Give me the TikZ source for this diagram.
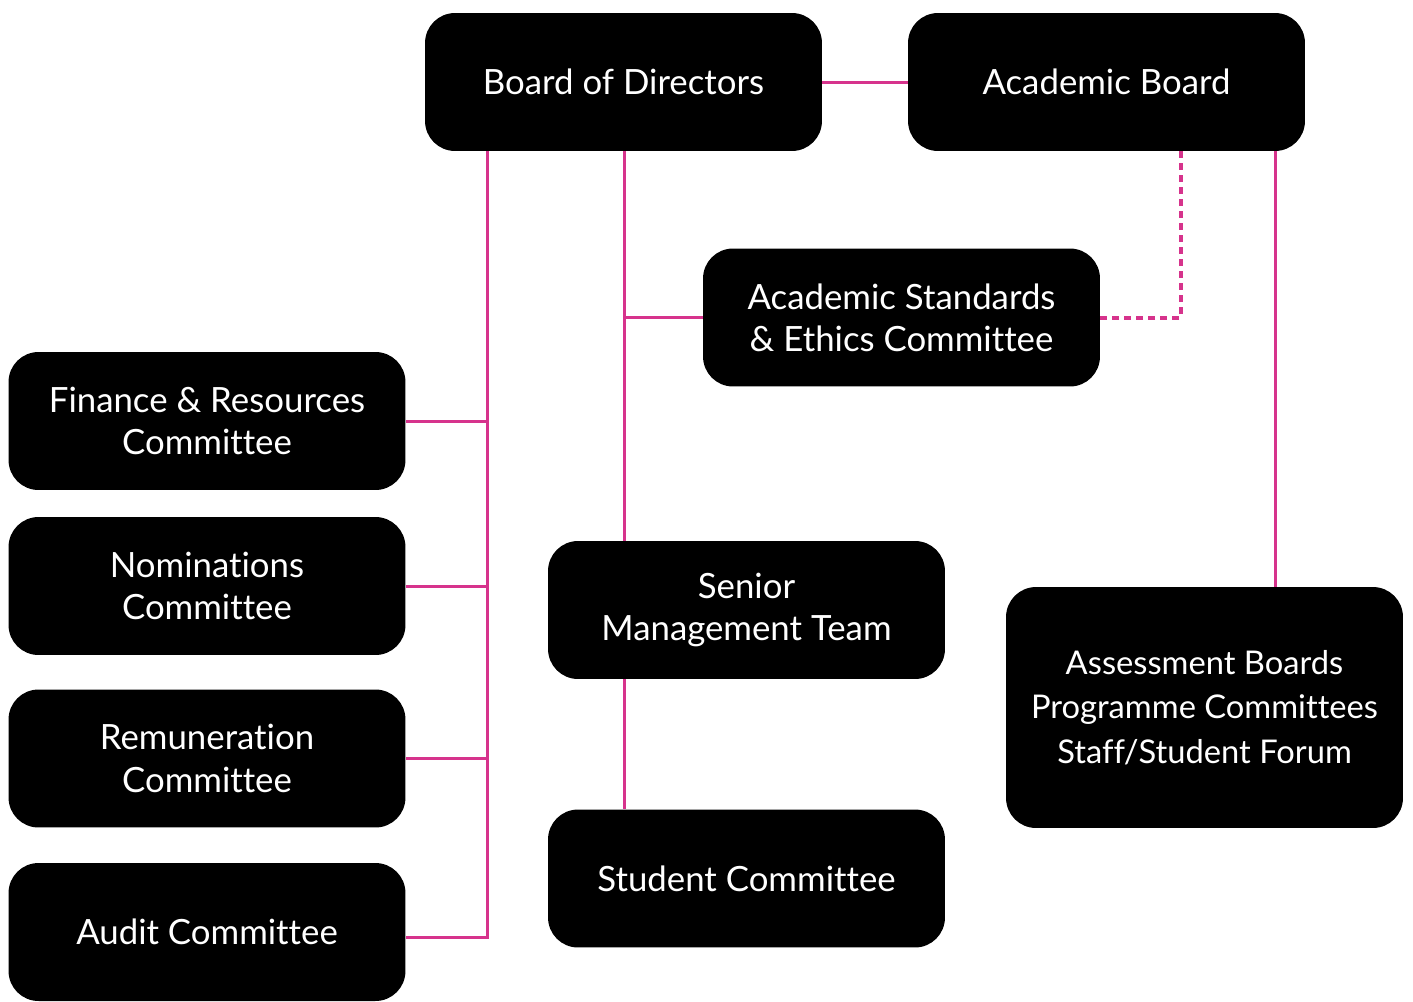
\documentclass[tikz,border=0pt]{standalone}
\usepackage{fontspec}
\setmainfont{Lato}[Ligatures=NoCommon]
\usetikzlibrary{positioning}
\definecolor{orgpink}{RGB}{214,51,140}
\tikzset{
    mynode/.style = {rectangle, rounded corners=0.6cm, fill=black, text=white, align=center,
        minimum width=7.94cm, minimum height=2.76cm, inner sep=0pt, font=\fontsize{19.8}{24}\selectfont},
    mynodet/.style = {mynode, minimum height=4.82cm, font=\fontsize{18.6}{25.5}\selectfont},
    edgep/.style = {draw=orgpink, line width=0.06cm},
    edgepd/.style = {draw=orgpink, line width=0.08cm, dash pattern=on 0.14cm off 0.1cm}, % dotted link
}

\begin{document}
\begin{tikzpicture}[x=0.02cm, y=-0.02cm]
  \useasboundingbox (0,0) rectangle (1413,1001);

  % top row
  \node[mynode] (bod) at (623.5,82) {Board of Directors};
  \node[mynode] (ab) at (1106.5,82) {Academic Board};
  \node[mynode] (asec) at (901.5,317.5) {Academic Standards\\\& Ethics Committee};

  % left column
  \node[mynode] (fin) at (207,421) {Finance \& Resources\\Committee};
  \node[mynode] (nom) at (207,586) {Nominations\\Committee};
  \node[mynode] (rem) at (207,758.5) {Remuneration\\Committee};
  \node[mynode] (aud) at (207,932) {Audit Committee};

  % middle column
  \node[mynode] (smt) at (746.5,610) {Senior\\Management Team};
  \node[mynode] (stc) at (746.5,878.5) {Student Committee};

  % right column
  \node[mynodet] (asb) at (1204.5,707.5) {Assessment Boards\\Programme Committees\\Staff/Student Forum};

  % connectors
  \coordinate (trunk) at (487,937);
  \draw[edgep] (bod) -- (ab);
  \draw[edgep] (bod.south -| trunk) -- (trunk) -- (aud.east |- trunk);
  \foreach \n in {fin,nom,rem}
    \draw[edgep] (\n.east) -- (\n.east -| trunk);
  \draw[edgep] (bod.south -| 624,0) -- (smt.north -| 624,0);
  \draw[edgep] (asec.west -| 624,0) -- (asec.west);
  \draw[edgep] (smt.south -| 624,0) -- (stc.north -| 624,0);
  \draw[edgep] (ab.south -| 1275,0) -- (asb.north -| 1275,0);
  \draw[edgepd] (ab.south -| 1181,0) -- (asec.east -| 1181,0) -- (asec.east);

\end{tikzpicture}
\end{document}
